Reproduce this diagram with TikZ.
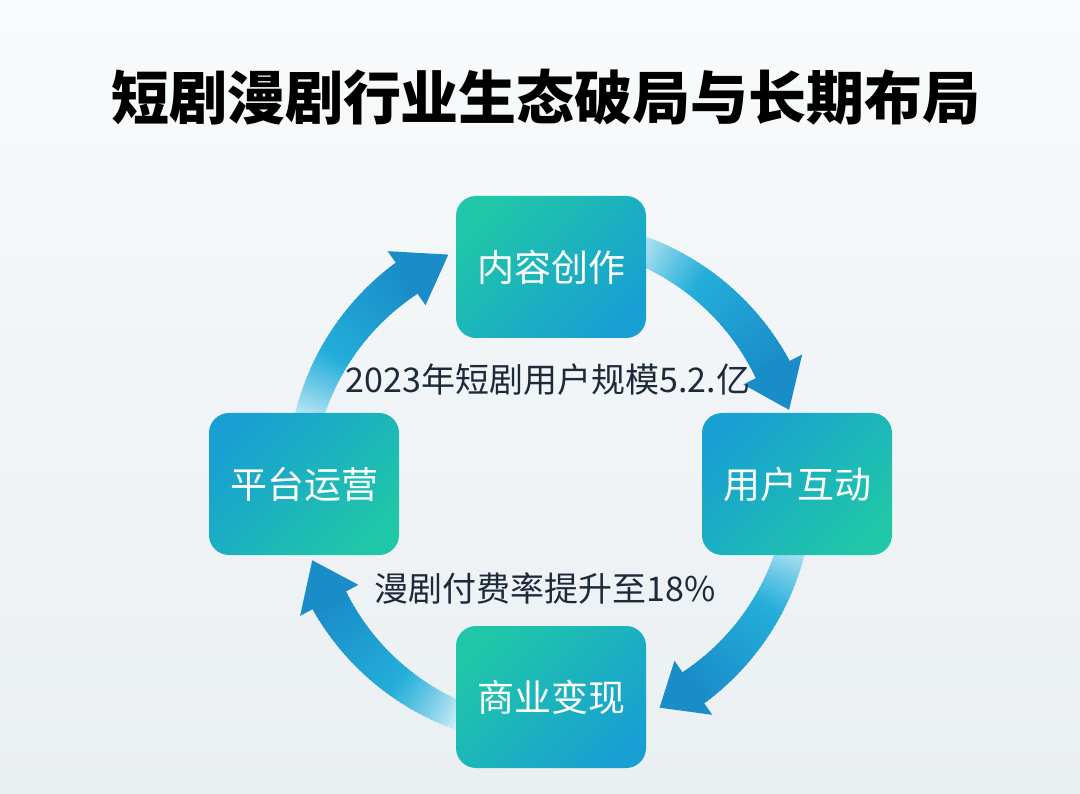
\documentclass[tikz,border=0pt]{standalone}
\usepackage{fontspec}
\setmainfont{Noto Sans CJK SC}
\usetikzlibrary{calc}
\definecolor{BoxTeal}{RGB}{32,198,168}
\definecolor{BoxBlue}{RGB}{24,160,210}
\definecolor{ArrLight}{RGB}{222,243,249}
\definecolor{ArrMid}{RGB}{36,174,218}
\definecolor{ArrDark}{RGB}{26,140,200}
\definecolor{LabelInk}{RGB}{30,42,58}
\definecolor{BgTop}{RGB}{248,250,251}
\definecolor{BgBot}{RGB}{234,239,242}
\tikzset{
  stagebox/.style={rounded corners=20pt, minimum width=190pt, minimum height=142pt,
    text=white, font=\fontsize{37}{42}\selectfont, inner sep=0pt},
  tealfirst/.style={left color=BoxTeal, right color=BoxBlue, shading angle=45},
  bluefirst/.style={left color=BoxBlue, right color=BoxTeal, shading angle=45},
  statlabel/.style={text=LabelInk, font=\fontsize{34}{40}\selectfont, inner sep=0pt},
}
% ring arrow: #1 start angle, #2 head base angle, #3 tip angle (pixel space, y down)
\newcommand{\ringarrow}[3]{%
  \foreach \i in {0,...,44}{%
    \pgfmathsetmacro{\ta}{#1+(#2-#1)*\i/45}%
    \pgfmathsetmacro{\tb}{#1+(#2-#1)*(\i+1.4)/45}%
    \pgfmathsetmacro{\wa}{14+5*\i/45}%
    \pgfmathsetmacro{\wb}{14+5*(\i+1)/45}%
    \ifnum\i<18
      \pgfmathsetmacro{\pc}{100*(\i/18)^0.8}%
      \colorlet{slicecol}{ArrMid!\pc!ArrLight}%
    \else
      \pgfmathsetmacro{\pc}{100*(\i-18)/26}%
      \colorlet{slicecol}{ArrDark!\pc!ArrMid}%
    \fi
    \fill[slicecol] ({550+(250+\wa)*cos(\ta)},{483+(250+\wa)*sin(\ta)})
      -- ({550+(250+\wb)*cos(\tb)},{483+(250+\wb)*sin(\tb)})
      -- ({550+(250-\wb)*cos(\tb)},{483+(250-\wb)*sin(\tb)})
      -- ({550+(250-\wa)*cos(\ta)},{483+(250-\wa)*sin(\ta)}) -- cycle;
  }%
  \fill[ArrDark] ({550+283*cos(#2)},{483+283*sin(#2)})
    -- ({550+250*cos(#3)},{483+250*sin(#3)})
    -- ({550+217*cos(#2)},{483+217*sin(#2)}) -- cycle;
}
\begin{document}
\begin{tikzpicture}[x=1pt,y=-1pt]
\useasboundingbox (0,0) rectangle (1080,794);
\shade[top color=BgTop, bottom color=BgBot] (0,0) rectangle (1080,794);

% arrows (drawn first, boxes cover their tails)
\ringarrow{-72}{-27}{-17}
\ringarrow{12}{55}{64}
\ringarrow{110}{152}{162}
\ringarrow{193}{235}{246}

% title
\node[font=\fontsize{58}{64}\selectfont\bfseries, text=black] (title) at (546,97) {短剧漫剧行业生态破局与长期布局};

% stage boxes
\node[stagebox, tealfirst] (content) at (551,267) {内容创作};
\node[stagebox, bluefirst] (user) at (797,484) {用户互动};
\node[stagebox, tealfirst] (money) at (551,697) {商业变现};
\node[stagebox, bluefirst] (platform) at (304,484) {平台运营};

% statistics
\node[statlabel] (stat1) at (548,380) {2023年短剧用户规模5.2.亿};
\node[statlabel] (stat2) at (545,588) {漫剧付费率提升至18\%};
\end{tikzpicture}
\end{document}
